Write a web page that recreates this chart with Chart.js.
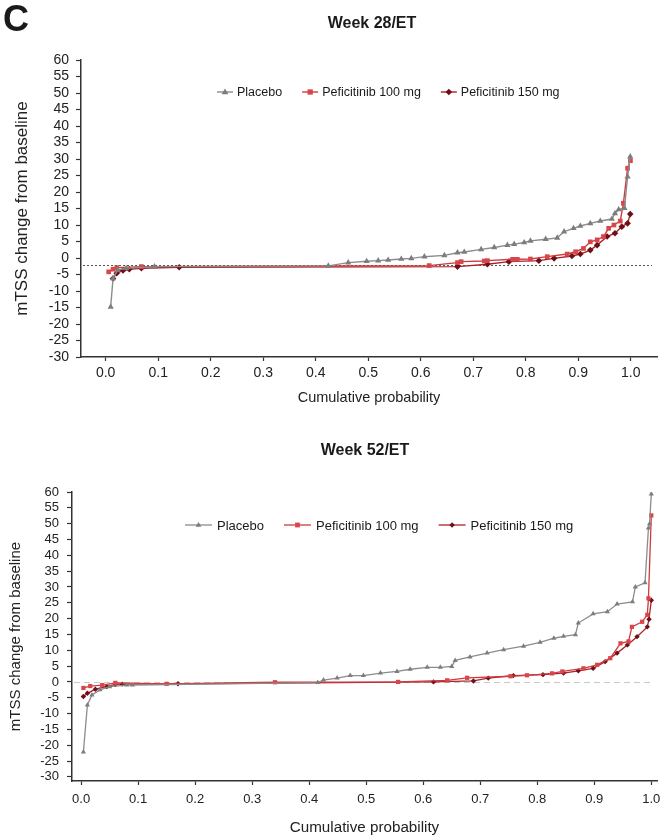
<!DOCTYPE html>
<html>
<head>
<meta charset="utf-8">
<script src="https://cdn.jsdelivr.net/npm/chart.js@4.4.1/dist/chart.umd.min.js"></script>
<style>
  body { margin: 0; background: #fff; width: 661px; height: 837px; position: relative; overflow: hidden;
         font-family: "Liberation Sans", Arial, sans-serif; color: #1a1a1a; }
  canvas { position: absolute; left: 0; }
  .lbl { position: absolute; font-weight: bold; line-height: 1; white-space: nowrap; }
</style>
</head>
<body>
<canvas id="week28" width="661" height="415" style="top:0"></canvas>
<canvas id="week52" width="661" height="417" style="top:420px"></canvas>
<div class="lbl" style="left:3px;top:1px;font-size:36px">C</div>
<div class="lbl" style="left:272px;top:15px;width:200px;text-align:center;font-size:16px">Week 28/ET</div>
<div class="lbl" style="left:265px;top:442px;width:200px;text-align:center;font-size:16px">Week 52/ET</div>
<script>
var seriesNames = ["Placebo", "Peficitinib 100 mg", "Peficitinib 150 mg"];
var probTicks = [0.0, 0.1, 0.2, 0.3, 0.4, 0.5, 0.6, 0.7, 0.8, 0.9, 1.0];
var mtssTicks = [-30, -25, -20, -15, -10, -5, 0, 5, 10, 15, 20, 25, 30, 35, 40, 45, 50, 55, 60];

// week 28/ET
var probPlacebo28 = [0.0095, 0.014, 0.023, 0.039, 0.093, 0.424, 0.462, 0.497, 0.519, 0.538, 0.563, 0.582, 0.607, 0.645, 0.670, 0.683, 0.715, 0.740, 0.765, 0.778, 0.797, 0.809, 0.838, 0.860, 0.873, 0.891, 0.904, 0.923, 0.942, 0.964, 0.970, 0.977, 0.988, 0.994, 0.999];
var mtssPlacebo28 = [-14.8, -6.2, -3.6, -3.1, -2.6, -2.4, -1.4, -1.0, -0.8, -0.6, -0.3, -0.1, 0.4, 0.8, 1.6, 1.8, 2.6, 3.2, 3.9, 4.2, 4.7, 5.2, 5.7, 6.1, 8.0, 9.0, 9.7, 10.5, 11.2, 11.8, 13.5, 14.7, 15.1, 24.6, 30.7];
var prob100mg28 = [0.0057, 0.014, 0.021, 0.068, 0.616, 0.670, 0.677, 0.721, 0.727, 0.775, 0.784, 0.809, 0.841, 0.879, 0.895, 0.910, 0.923, 0.936, 0.948, 0.958, 0.968, 0.980, 0.986, 0.994, 0.9994];
var mtss100mg28 = [-4.2, -3.4, -2.9, -2.6, -2.3, -1.4, -1.1, -0.9, -0.8, -0.4, -0.4, -0.3, 0.4, 1.2, 1.9, 2.9, 4.9, 5.5, 6.5, 9.0, 10.0, 11.2, 16.6, 27.2, 29.5];
var prob150mg28 = [0.014, 0.021, 0.033, 0.045, 0.068, 0.140, 0.670, 0.727, 0.768, 0.825, 0.854, 0.888, 0.904, 0.923, 0.936, 0.955, 0.970, 0.983, 0.994, 0.999];
var mtss150mg28 = [-6.2, -4.6, -3.8, -3.4, -3.1, -2.8, -2.6, -1.9, -1.1, -0.8, -0.1, 0.6, 1.2, 2.4, 3.9, 6.5, 7.5, 9.5, 10.5, 13.3];
var refLine28 = -2.2;

// week 52/ET
var probPlacebo52 = [0.004, 0.011, 0.019, 0.033, 0.05, 0.08, 0.09, 0.415, 0.425, 0.449, 0.472, 0.495, 0.525, 0.554, 0.577, 0.607, 0.63, 0.65, 0.656, 0.682, 0.712, 0.741, 0.776, 0.805, 0.829, 0.846, 0.867, 0.872, 0.898, 0.923, 0.94, 0.967, 0.972, 0.989, 0.995, 0.997, 1.0];
var mtssPlacebo52 = [-22.1, -7.3, -4.1, -2.5, -1.5, -1.0, -1.0, -0.2, 0.6, 1.2, 2.0, 2.0, 2.8, 3.3, 4.0, 4.6, 4.6, 4.9, 6.8, 7.9, 9.1, 10.2, 11.3, 12.5, 13.8, 14.4, 14.9, 18.6, 21.5, 22.2, 24.6, 25.3, 30.0, 31.3, 48.6, 50.0, 59.4];
var prob100mg52 = [0.004, 0.016, 0.037, 0.06, 0.15, 0.34, 0.556, 0.642, 0.677, 0.753, 0.782, 0.826, 0.844, 0.881, 0.905, 0.928, 0.946, 0.96, 0.966, 0.984, 0.993, 0.995, 1.0];
var mtss100mg52 = [-1.9, -1.3, -1.0, -0.3, -0.6, -0.1, 0.0, 0.5, 1.3, 1.8, 2.1, 2.7, 3.3, 4.3, 5.4, 7.5, 12.2, 12.8, 17.4, 19.0, 21.2, 26.4, 52.6];
var prob150mg52 = [0.004, 0.011, 0.025, 0.045, 0.06, 0.072, 0.17, 0.618, 0.688, 0.714, 0.758, 0.81, 0.846, 0.872, 0.898, 0.919, 0.94, 0.958, 0.975, 0.993, 0.996, 1.0];
var mtss150mg52 = [-4.6, -3.6, -2.3, -1.5, -0.8, -0.7, -0.6, 0.0, 0.3, 1.2, 2.0, 2.3, 2.8, 3.5, 4.3, 6.4, 9.1, 11.7, 14.3, 17.4, 19.8, 25.8];
var refLine52 = 0;

var FONT = '"Liberation Sans", Arial, sans-serif';
var lineColors = ['#8c8c8c', '#d03a3e', '#a8232b'];
var markerColors = ['#7d7d7d', '#d8464a', '#6f0f18'];
var markerStyles = ['triangle', 'rect', 'rectRot'];

function pts(xs, ys) {
  return xs.map(function (x, i) { return { x: x, y: ys[i] }; });
}

function drawMarker(ctx, style, x, y, r, color) {
  ctx.save();
  ctx.fillStyle = color;
  ctx.beginPath();
  if (style === 'triangle') {
    ctx.moveTo(x, y - r);
    ctx.lineTo(x + r * 0.95, y + r * 0.6);
    ctx.lineTo(x - r * 0.95, y + r * 0.6);
  } else if (style === 'rect') {
    ctx.rect(x - r * 0.8, y - r * 0.8, r * 1.6, r * 1.6);
  } else {
    ctx.moveTo(x, y - r);
    ctx.lineTo(x + r, y);
    ctx.lineTo(x, y + r);
    ctx.lineTo(x - r, y);
  }
  ctx.closePath();
  ctx.fill();
  ctx.restore();
}

// legend drawn inside the plot: line, marker, label
var lineLegend = {
  id: 'lineLegend',
  afterDraw: function (chart, args, opts) {
    var ctx = chart.ctx;
    var x = opts.x;
    ctx.save();
    ctx.font = opts.fontSize + 'px ' + FONT;
    ctx.textBaseline = 'middle';
    chart.data.datasets.forEach(function (ds) {
      ctx.strokeStyle = ds.borderColor;
      ctx.lineWidth = ds.borderWidth;
      ctx.beginPath();
      ctx.moveTo(x, opts.y);
      ctx.lineTo(x + opts.lineLen, opts.y);
      ctx.stroke();
      drawMarker(ctx, ds.pointStyle, x + opts.lineLen / 2, opts.y, ds.pointRadius, ds.pointBackgroundColor);
      x += opts.lineLen + opts.textGap;
      ctx.fillStyle = '#1a1a1a';
      ctx.fillText(ds.label, x, opts.y + 1);
      x += ctx.measureText(ds.label).width + opts.itemGap;
    });
    ctx.restore();
  }
};

var refLine = {
  id: 'refLine',
  beforeDatasetsDraw: function (chart, args, opts) {
    var ctx = chart.ctx, a = chart.chartArea;
    var y = Math.round(chart.scales.y.getPixelForValue(opts.value)) + 0.5;
    ctx.save();
    ctx.strokeStyle = opts.color;
    ctx.lineWidth = opts.width;
    ctx.setLineDash(opts.dash);
    ctx.beginPath();
    ctx.moveTo(a.left + 2, y);
    ctx.lineTo(a.right - opts.endGap, y);
    ctx.stroke();
    ctx.restore();
  }
};

function buildChart(canvasId, series, look) {
  return new Chart(canvasId, {
    type: 'scatter',
    data: {
      datasets: series.map(function (s, i) {
        return {
          label: seriesNames[i],
          data: pts(s[0], s[1]),
          showLine: true,
          tension: 0,
          borderColor: lineColors[i],
          borderWidth: look.lineWidth,
          pointStyle: markerStyles[i],
          pointRadius: look.radius[i],
          pointBackgroundColor: markerColors[i],
          pointBorderColor: markerColors[i],
          pointBorderWidth: 0
        };
      })
    },
    plugins: [lineLegend, refLine],
    options: {
      responsive: false,
      animation: false,
      devicePixelRatio: 1,
      layout: { padding: { top: look.top, right: look.right, left: 0, bottom: 0 } },
      plugins: {
        legend: { display: false },
        tooltip: { enabled: false },
        lineLegend: look.legend,
        refLine: look.ref
      },
      scales: {
        x: {
          type: 'linear',
          min: look.xMin,
          max: look.xMax,
          afterBuildTicks: function (s) { s.ticks = probTicks.map(function (v) { return { value: v }; }); },
          afterFit: function (s) { s.height = look.xHeight; s.paddingLeft = 0; s.paddingRight = 0; },
          ticks: {
            autoSkip: false, maxRotation: 0, color: '#222', padding: look.xTickPad,
            font: { family: FONT, size: look.tickSize },
            callback: function (v) { return v.toFixed(1); }
          },
          grid: { drawOnChartArea: false, tickLength: 4, color: '#333', tickWidth: 1.2 },
          border: { color: '#333', width: 1.5 },
          title: {
            display: true, text: 'Cumulative probability', color: '#222',
            font: { family: FONT, size: look.xTitleSize },
            padding: { top: 0, bottom: look.xTitlePad }
          }
        },
        y: {
          type: 'linear',
          min: look.yMin,
          max: 60,
          afterBuildTicks: function (s) { s.ticks = mtssTicks.map(function (v) { return { value: v }; }); },
          afterFit: function (s) { s.width = look.yWidth; s.paddingTop = 0; s.paddingBottom = 0; },
          ticks: {
            autoSkip: false, color: '#222', padding: look.yTickPad,
            font: { family: FONT, size: look.tickSize }
          },
          grid: { drawOnChartArea: false, tickLength: 5, color: '#333', tickWidth: 1.2 },
          border: { color: '#333', width: 1.5 },
          title: {
            display: true, text: 'mTSS change from baseline', color: '#222',
            font: { family: FONT, size: look.yTitleSize },
            padding: { top: look.yTitlePad, bottom: 0 }
          }
        }
      }
    }
  });
}

buildChart('week28', [
  [probPlacebo28, mtssPlacebo28],
  [prob100mg28, mtss100mg28],
  [prob150mg28, mtss150mg28]
], {
  top: 60, right: 1, xMin: -0.047, xMax: 1.05, yMin: -30,
  xHeight: 58, yWidth: 81, tickSize: 14, xTickPad: 4, yTickPad: 7,
  xTitleSize: 14.5, xTitlePad: 8, yTitleSize: 17, yTitlePad: 12,
  lineWidth: 1.4, radius: [3.6, 3.3, 3.3],
  legend: { x: 217, y: 92, lineLen: 16, textGap: 4, itemGap: 20, fontSize: 12.5 },
  ref: { value: refLine28, color: '#555', width: 1, dash: [2, 2], endGap: 5 }
});

buildChart('week52', [
  [probPlacebo52, mtssPlacebo52],
  [prob100mg52, mtss100mg52],
  [prob150mg52, mtss150mg52]
], {
  top: 72, right: 3, xMin: -0.016, xMax: 1.01, yMin: -31.3,
  xHeight: 56, yWidth: 72, tickSize: 13, xTickPad: 7, yTickPad: 8,
  xTitleSize: 15.2, xTitlePad: 0, yTitleSize: 15, yTitlePad: 7,
  lineWidth: 1.3, radius: [3, 3, 2.7],
  legend: { x: 185, y: 105, lineLen: 27, textGap: 5, itemGap: 20, fontSize: 13 },
  ref: { value: refLine52, color: '#c8c8c8', width: 1.2, dash: [6, 4], endGap: 3 }
});
</script>
</body>
</html>
